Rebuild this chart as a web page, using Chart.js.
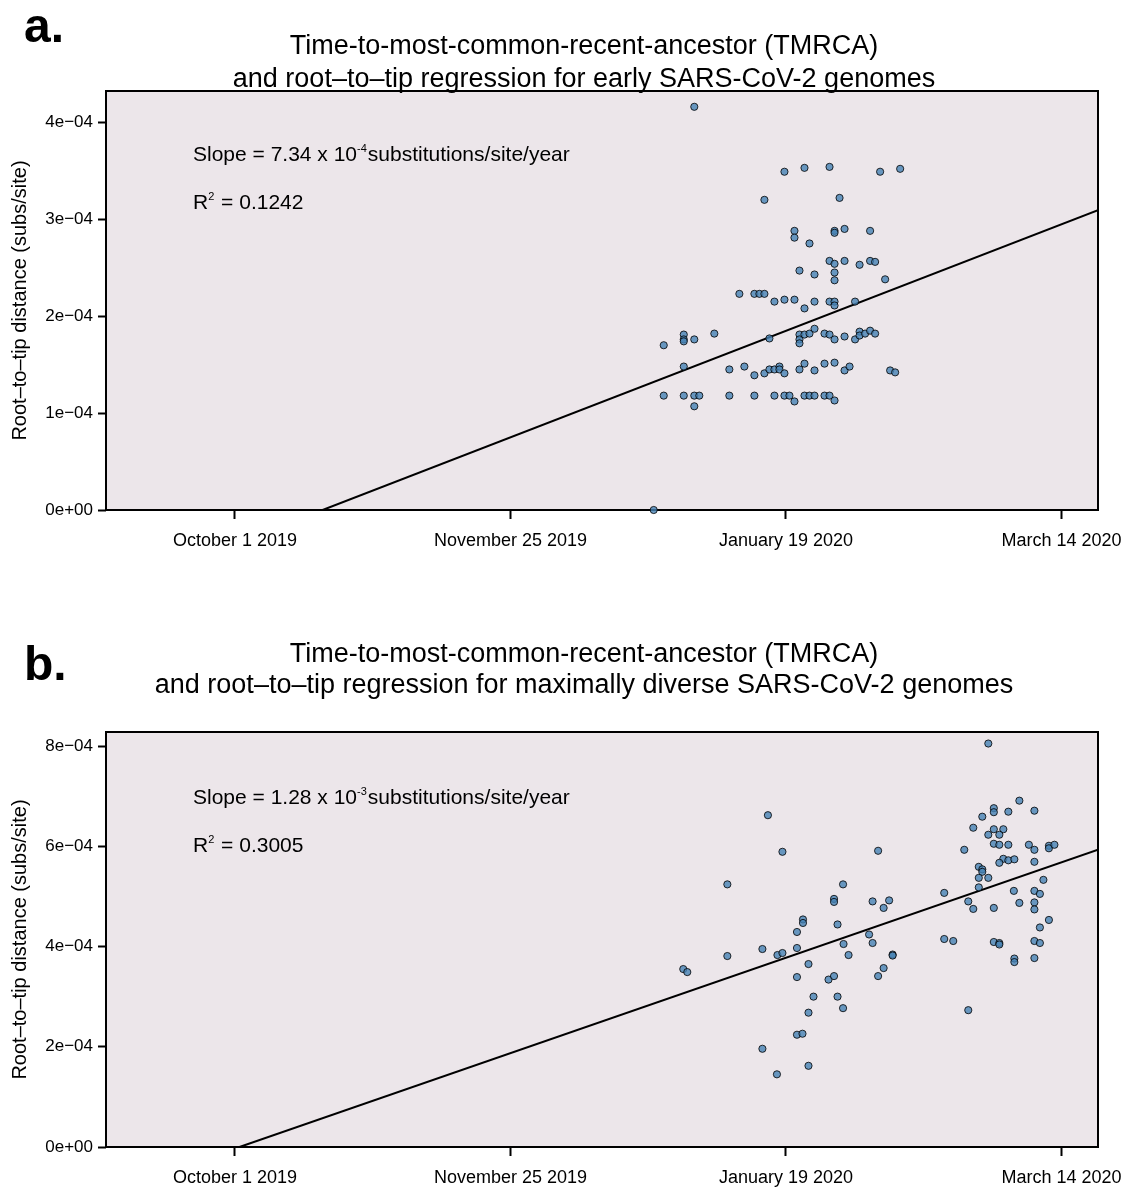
<!DOCTYPE html>
<html>
<head>
<meta charset="utf-8">
<script src="https://cdn.jsdelivr.net/npm/chart.js@4.4.1/dist/chart.umd.min.js"></script>
<style>
  body { margin: 0; background: #fff; }
  .panel { position: absolute; left: 0; width: 1126px; }
</style>
</head>
<body>
<div class="panel" style="top:0;height:580px"><canvas id="chartA"></canvas></div>
<div class="panel" style="top:580px;height:609px"><canvas id="chartB"></canvas></div>
<script>
// x values are days since October 1 2019
var xTickDays = [0, 55, 110, 165];
var xTickLabels = ['October 1 2019', 'November 25 2019', 'January 19 2020', 'March 14 2020'];

// panel a: early genomes
var daysA = [91.7, 109.7, 113.7, 118.7, 128.8, 132.8, 105.7, 120.7, 111.7, 111.7,
  119.7, 119.7, 121.7, 126.8, 114.7, 118.7, 119.7, 121.7, 124.7, 126.8,
  127.8, 112.7, 115.7, 119.7, 119.7, 129.8, 100.7, 103.7, 104.7, 105.7,
  107.7, 109.7, 111.7, 113.7, 115.7, 118.7, 119.7, 119.7, 123.8, 85.6,
  89.6, 89.6, 89.6, 91.7, 95.7, 106.7, 112.7, 112.7, 112.7, 113.7,
  114.7, 115.7, 117.7, 118.7, 119.7, 121.7, 123.8, 124.7, 124.7, 125.8,
  126.8, 127.8, 89.6, 98.7, 101.7, 103.7, 105.7, 106.7, 107.7, 108.7,
  108.7, 109.7, 112.7, 113.7, 115.7, 117.7, 119.7, 121.7, 122.7, 130.8,
  131.8, 85.6, 89.6, 91.7, 92.7, 91.7, 98.7, 103.7, 107.7, 109.7,
  110.7, 111.7, 113.7, 114.7, 115.7, 117.7, 118.7, 119.7, 83.6];
var distA = [4.16e-4, 3.49e-4, 3.53e-4, 3.54e-4, 3.49e-4, 3.52e-4, 3.20e-4, 3.22e-4, 2.88e-4, 2.81e-4,
  2.88e-4, 2.86e-4, 2.90e-4, 2.88e-4, 2.75e-4, 2.57e-4, 2.54e-4, 2.57e-4, 2.53e-4, 2.57e-4,
  2.56e-4, 2.47e-4, 2.43e-4, 2.45e-4, 2.37e-4, 2.38e-4, 2.23e-4, 2.23e-4, 2.23e-4, 2.23e-4,
  2.15e-4, 2.17e-4, 2.17e-4, 2.08e-4, 2.15e-4, 2.15e-4, 2.15e-4, 2.11e-4, 2.15e-4, 1.70e-4,
  1.81e-4, 1.76e-4, 1.74e-4, 1.76e-4, 1.82e-4, 1.77e-4, 1.81e-4, 1.76e-4, 1.72e-4, 1.81e-4,
  1.82e-4, 1.87e-4, 1.82e-4, 1.81e-4, 1.76e-4, 1.79e-4, 1.76e-4, 1.84e-4, 1.80e-4, 1.82e-4,
  1.85e-4, 1.82e-4, 1.48e-4, 1.45e-4, 1.48e-4, 1.39e-4, 1.41e-4, 1.45e-4, 1.45e-4, 1.48e-4,
  1.45e-4, 1.41e-4, 1.45e-4, 1.51e-4, 1.44e-4, 1.51e-4, 1.52e-4, 1.44e-4, 1.48e-4, 1.44e-4,
  1.42e-4, 1.18e-4, 1.18e-4, 1.18e-4, 1.18e-4, 1.07e-4, 1.18e-4, 1.18e-4, 1.18e-4, 1.18e-4,
  1.18e-4, 1.12e-4, 1.18e-4, 1.18e-4, 1.18e-4, 1.18e-4, 1.18e-4, 1.13e-4, 0];
var fitDaysA = [17.5, 172.3];
var fitDistA = [0, 3.094e-4];
var yTicksA = [0, 1e-4, 2e-4, 3e-4, 4e-4];
var yTickLabelsA = ['0e+00', '1e\u221204', '2e\u221204', '3e\u221204', '4e\u221204'];

// panel b: maximally diverse genomes
var daysB = [106.4, 109.3, 128.4, 98.3, 121.4, 119.6, 119.6, 127.3, 130.6, 129.5,
  113.4, 113.4, 120.3, 112.2, 126.6, 127.3, 121.5, 105.3, 98.3, 108.3,
  109.3, 112.2, 122.5, 131.3, 131.3, 89.5, 90.3, 114.5, 129.5, 112.2,
  118.5, 119.6, 128.4, 115.5, 120.3, 114.5, 121.4, 112.2, 113.3, 105.3,
  114.5, 108.2, 150.4, 156.6, 151.5, 151.5, 154.4, 159.6, 149.2, 147.4,
  151.5, 153.4, 150.4, 152.6, 151.5, 152.6, 154.4, 158.5, 159.6, 162.5,
  162.5, 163.6, 145.6, 153.4, 154.4, 155.6, 152.6, 159.6, 148.5, 149.2,
  149.2, 148.5, 150.4, 161.4, 148.5, 141.6, 155.5, 159.6, 160.7, 146.4,
  147.4, 151.5, 156.6, 159.6, 159.6, 162.5, 160.7, 141.6, 143.4, 151.5,
  152.6, 152.6, 159.6, 160.7, 155.6, 155.6, 159.6, 146.4];
var distB = [6.62e-4, 5.89e-4, 5.91e-4, 5.24e-4, 5.24e-4, 4.95e-4, 4.89e-4, 4.90e-4, 4.92e-4, 4.77e-4,
  4.54e-4, 4.47e-4, 4.44e-4, 4.29e-4, 4.24e-4, 4.07e-4, 4.05e-4, 3.95e-4, 3.81e-4, 3.83e-4,
  3.87e-4, 3.97e-4, 3.83e-4, 3.84e-4, 3.82e-4, 3.55e-4, 3.49e-4, 3.65e-4, 3.57e-4, 3.39e-4,
  3.34e-4, 3.41e-4, 3.41e-4, 3.00e-4, 3.00e-4, 2.68e-4, 2.77e-4, 2.24e-4, 2.26e-4, 1.96e-4,
  1.62e-4, 1.45e-4, 8.05e-4, 6.91e-4, 6.76e-4, 6.68e-4, 6.69e-4, 6.71e-4, 6.59e-4, 6.37e-4,
  6.34e-4, 6.34e-4, 6.23e-4, 6.23e-4, 6.05e-4, 6.03e-4, 6.03e-4, 6.03e-4, 5.93e-4, 6.01e-4,
  5.96e-4, 6.03e-4, 5.93e-4, 5.75e-4, 5.72e-4, 5.74e-4, 5.67e-4, 5.69e-4, 5.59e-4, 5.54e-4,
  5.49e-4, 5.37e-4, 5.37e-4, 5.33e-4, 5.18e-4, 5.07e-4, 5.11e-4, 5.11e-4, 5.05e-4, 4.90e-4,
  4.75e-4, 4.77e-4, 4.87e-4, 4.88e-4, 4.74e-4, 4.53e-4, 4.38e-4, 4.15e-4, 4.11e-4, 4.09e-4,
  4.07e-4, 4.04e-4, 4.11e-4, 4.07e-4, 3.76e-4, 3.69e-4, 3.77e-4, 2.73e-4];
var fitDaysB = [0.9, 172.3];
var fitDistB = [0, 5.93e-4];
var yTicksB = [0, 2e-4, 4e-4, 6e-4, 8e-4];
var yTickLabelsB = ['0e+00', '2e\u221204', '4e\u221204', '6e\u221204', '8e\u221204'];

var FONT = '"Liberation Sans", Arial, Helvetica, sans-serif';

function pts(xs, ys) {
  return xs.map(function (x, i) { return { x: x, y: ys[i] }; });
}

// text with raised small parts, e.g. 10^-4 and R^2
function drawParts(ctx, x, y, parts) {
  parts.forEach(function (p) {
    ctx.font = (p.sup ? '11px ' : '21px ') + FONT;
    ctx.fillText(p.t, x, p.sup ? y - 9 : y);
    x += ctx.measureText(p.t).width + (p.sup ? 1 : 0);
  });
}

var decor = {
  id: 'decor',
  beforeDraw: function (chart) {
    var a = chart.chartArea, ctx = chart.ctx;
    ctx.save();
    ctx.fillStyle = '#ece6ea';
    ctx.fillRect(a.left, a.top, a.right - a.left, a.bottom - a.top);
    ctx.restore();
  },
  beforeDatasetsDraw: function (chart) {
    var a = chart.chartArea, ctx = chart.ctx;
    ctx.save();
    ctx.strokeStyle = '#000';
    ctx.lineWidth = 2;
    ctx.strokeRect(a.left, a.top, a.right - a.left, a.bottom - a.top);
    ctx.restore();
  },
  afterDraw: function (chart, args, o) {
    var a = chart.chartArea, ctx = chart.ctx;
    ctx.save();
    ctx.fillStyle = '#000';
    ctx.textBaseline = 'alphabetic';
    ctx.textAlign = 'left';
    ctx.font = 'bold 48px ' + FONT;
    ctx.fillText(o.letter, 24, o.letterY);
    ctx.textAlign = 'center';
    ctx.textBaseline = 'middle';
    ctx.font = '27px ' + FONT;
    ctx.fillText(o.title[0], 584, o.titleY[0]);
    ctx.fillText(o.title[1], 584, o.titleY[1]);
    ctx.textAlign = 'left';
    ctx.textBaseline = 'alphabetic';
    drawParts(ctx, a.left + 87, a.top + o.noteY[0], o.slope);
    drawParts(ctx, a.left + 87, a.top + o.noteY[1], o.r2);
    ctx.restore();
  }
};

function makeChart(id, p) {
  return new Chart(document.getElementById(id), {
    type: 'scatter',
    data: {
      datasets: [{
        data: pts(p.days, p.dist),
        backgroundColor: 'rgba(70,130,180,0.8)',
        borderColor: 'rgba(0,0,0,0.8)',
        borderWidth: 1,
        pointRadius: 3.6,
        clip: false
      }, {
        type: 'line',
        data: pts(p.fitDays, p.fitDist),
        borderColor: '#000',
        borderWidth: 2,
        pointRadius: 0,
        fill: false
      }]
    },
    options: {
      responsive: true,
      maintainAspectRatio: false,
      animation: false,
      events: [],
      layout: { padding: { top: p.top, right: 28, left: 0, bottom: 0 } },
      plugins: {
        legend: { display: false },
        tooltip: { enabled: false },
        decor: p.decor
      },
      scales: {
        x: {
          type: 'linear',
          min: -25.75,
          max: 172.3,
          afterBuildTicks: function (s) { s.ticks = xTickDays.map(function (v) { return { value: v }; }); },
          afterFit: function (s) {
            s.height = p.xHeight;
            s.paddingLeft = 0;
            s.paddingRight = 0;
          },
          ticks: {
            color: '#000',
            font: { family: FONT, size: 18 },
            padding: 11,
            maxRotation: 0,
            callback: function (v, i) { return xTickLabels[i]; }
          },
          grid: { drawOnChartArea: false, tickLength: 9, tickWidth: 2, tickColor: '#000' },
          border: { display: false }
        },
        y: {
          min: 0,
          max: p.ymax,
          afterBuildTicks: function (s) { s.ticks = p.yTicks.map(function (v) { return { value: v }; }); },
          afterFit: function (s) {
            s.width = 106;
            s.paddingTop = 0;
            s.paddingBottom = 0;
          },
          ticks: {
            color: '#000',
            font: { family: FONT, size: 17 },
            padding: 5,
            callback: function (v, i) { return p.yLabels[i]; }
          },
          grid: { drawOnChartArea: false, tickLength: 8, tickWidth: 2, tickColor: '#000' },
          border: { display: false },
          title: {
            display: true,
            text: 'Root\u2013to\u2013tip distance (subs/site)',
            color: '#000',
            font: { family: FONT, size: 20 },
            padding: { top: 8, bottom: 0 }
          }
        }
      }
    },
    plugins: [decor]
  });
}

makeChart('chartA', {
  days: daysA, dist: distA, fitDays: fitDaysA, fitDist: fitDistA,
  yTicks: yTicksA, yLabels: yTickLabelsA, ymax: 4.323e-4,
  top: 91, xHeight: 70,
  decor: {
    letter: 'a.', letterY: 42,
    title: ['Time-to-most-common-recent-ancestor (TMRCA)',
            'and root\u2013to\u2013tip regression for early SARS-CoV-2 genomes'],
    titleY: [47, 80],
    noteY: [70, 118],
    slope: [{ t: 'Slope = 7.34 x 10' }, { t: '-4', sup: true }, { t: 'substitutions/site/year' }],
    r2: [{ t: 'R' }, { t: '2', sup: true }, { t: ' = 0.1242' }]
  }
});

makeChart('chartB', {
  days: daysB, dist: distB, fitDays: fitDaysB, fitDist: fitDistB,
  yTicks: yTicksB, yLabels: yTickLabelsB, ymax: 8.28e-4,
  top: 152, xHeight: 42,
  decor: {
    letter: 'b.', letterY: 100,
    title: ['Time-to-most-common-recent-ancestor (TMRCA)',
            'and root\u2013to\u2013tip regression for maximally diverse SARS-CoV-2 genomes'],
    titleY: [75, 106],
    noteY: [72, 120],
    slope: [{ t: 'Slope = 1.28 x 10' }, { t: '-3', sup: true }, { t: 'substitutions/site/year' }],
    r2: [{ t: 'R' }, { t: '2', sup: true }, { t: ' = 0.3005' }]
  }
});
</script>
</body>
</html>
